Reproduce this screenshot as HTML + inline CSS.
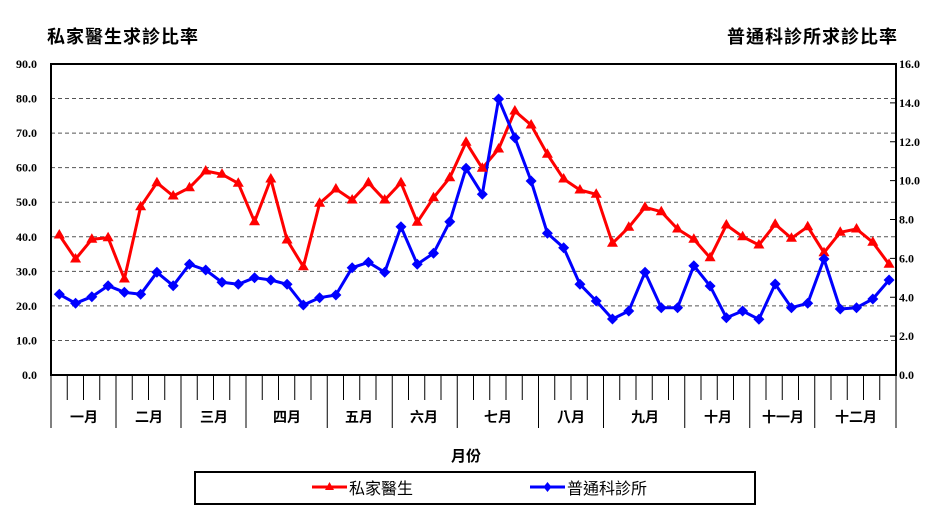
<!DOCTYPE html>
<html><head><meta charset="utf-8"><style>
html,body{margin:0;padding:0;background:#fff;}
svg{display:block;}
</style></head><body>
<svg id="c" width="948" height="514" xmlns="http://www.w3.org/2000/svg" font-family="'Liberation Serif','Noto Serif CJK SC','Noto Sans CJK TC',serif">
<text x="47" y="43" font-size="18" font-weight="bold" font-family="'Liberation Sans','Noto Sans CJK TC',sans-serif" letter-spacing="1">私家醫生求診比率</text>
<text x="898" y="43" font-size="18" font-weight="bold" text-anchor="end" font-family="'Liberation Sans','Noto Sans CJK TC',sans-serif" letter-spacing="1">普通科診所求診比率</text>
<g id="grid"></g>
<g id="ticks"></g>
<rect x="51" y="64" width="845" height="311" fill="none" stroke="#000" stroke-width="2"/>
<g id="series"></g>
<g font-size="12" font-weight="bold" text-anchor="end" id="ly"></g>
<g font-size="12" font-weight="bold" id="ry"></g>
<g font-size="14" font-weight="bold" text-anchor="middle" font-family="'Liberation Sans','Noto Sans CJK TC',sans-serif">
<text x="84" y="422">一月</text><text x="149" y="422">二月</text><text x="214" y="422">三月</text><text x="287" y="422">四月</text><text x="359" y="422">五月</text><text x="424" y="422">六月</text><text x="498" y="422">七月</text><text x="571" y="422">八月</text><text x="645" y="422">九月</text><text x="718" y="422">十月</text><text x="783" y="422">十一月</text><text x="856" y="422">十二月</text>
<text x="466" y="461" font-size="15">月份</text>
</g>
<rect x="195" y="472" width="560" height="32" fill="none" stroke="#000" stroke-width="2"/>
<line x1="312" y1="487" x2="347" y2="487" stroke="#f00" stroke-width="3"/><polygon points="329.5,482 334,490 325,490" fill="#f00"/>
<line x1="530" y1="487" x2="565" y2="487" stroke="#00f" stroke-width="3"/><polygon points="547.5,482 551.5,487 547.5,492 543.5,487" fill="#00f"/>
<g font-size="16" font-family="'Liberation Sans','Noto Sans CJK TC',sans-serif">
<text x="349" y="494">私家醫生</text><text x="567" y="494">普通科診所</text></g>
</svg>
<script>
var NS="http://www.w3.org/2000/svg",s=document.getElementById('c');
function el(p,t,a){var e=document.createElementNS(NS,t);for(var k in a)e.setAttribute(k,a[k]);document.getElementById(p).appendChild(e);return e;}
for(var v=1;v<=8;v++){var y=375-v*311/9;el('grid','line',{x1:51,x2:896,y1:y,y2:y,stroke:'#555','stroke-dasharray':'4,3','stroke-width':1});}
for(var v=0;v<=9;v++){var y=375-v*311/9;var t=el('ly','text',{x:37,y:y+4});t.textContent=(v*10).toFixed(1);}
for(var v=0;v<=8;v++){var y=375-v*311/8;var t=el('ry','text',{x:899,y:y+4});t.textContent=(v*2).toFixed(1);el('ticks','line',{x1:890,x2:896,y1:y,y2:y,stroke:'#000'});}
var months=[4,4,4,5,4,4,5,4,5,4,4,5],b=[0],c=0;months.forEach(function(m){c+=m;b.push(c);});
var w=845/52;
for(var i=0;i<=52;i++){var x=51+i*w;var long=b.indexOf(i)>=0;el('ticks','line',{x1:x,x2:x,y1:375,y2:long?428:400,stroke:'#000','stroke-width':1});}
var R=[235,259,239.3,237.7,279,206.7,182.7,196,187.7,171,174.3,183.3,221.7,179,240,266.7,203.3,189,200,182.7,200,182.7,222.3,197.7,177.7,142.3,168.3,149,111,125,154.3,179,190,194.3,243.3,227.3,207.3,211.7,229,239.3,257.7,225,236.7,245,224.3,238.3,226.7,252.7,232.3,229,242.3,264.3];
var B=[294.3,303.3,296.7,285.7,292.3,294.3,272.3,285.7,264.3,270,282.3,284.3,277.7,280,284.3,305,297.7,295,267.7,262.3,272.3,226.7,264.3,253.3,221.7,168.3,194.3,99,137.7,181,233.3,247.7,284.3,301,319,311,272.3,307.7,307.7,265.7,286,317.7,311,319.3,284,307.7,303.3,259,309,307.7,299,280];
function X(i){return 59.3+16.27*i;}
function line(d,col){el('series','polyline',{points:d.map(function(y,i){return X(i)+','+y;}).join(' '),fill:'none',stroke:col,'stroke-width':3,'stroke-linejoin':'round'});}
line(R,'#f00');line(B,'#00f');
R.forEach(function(y,i){var x=X(i);el('series','polygon',{points:(x)+','+(y-6)+' '+(x+5.5)+','+(y+3.5)+' '+(x-5.5)+','+(y+3.5),fill:'#f00'});});
B.forEach(function(y,i){var x=X(i);el('series','polygon',{points:x+','+(y-5.5)+' '+(x+5.5)+','+y+' '+x+','+(y+5.5)+' '+(x-5.5)+','+y,fill:'#00f'});});
</script>
</body></html>
